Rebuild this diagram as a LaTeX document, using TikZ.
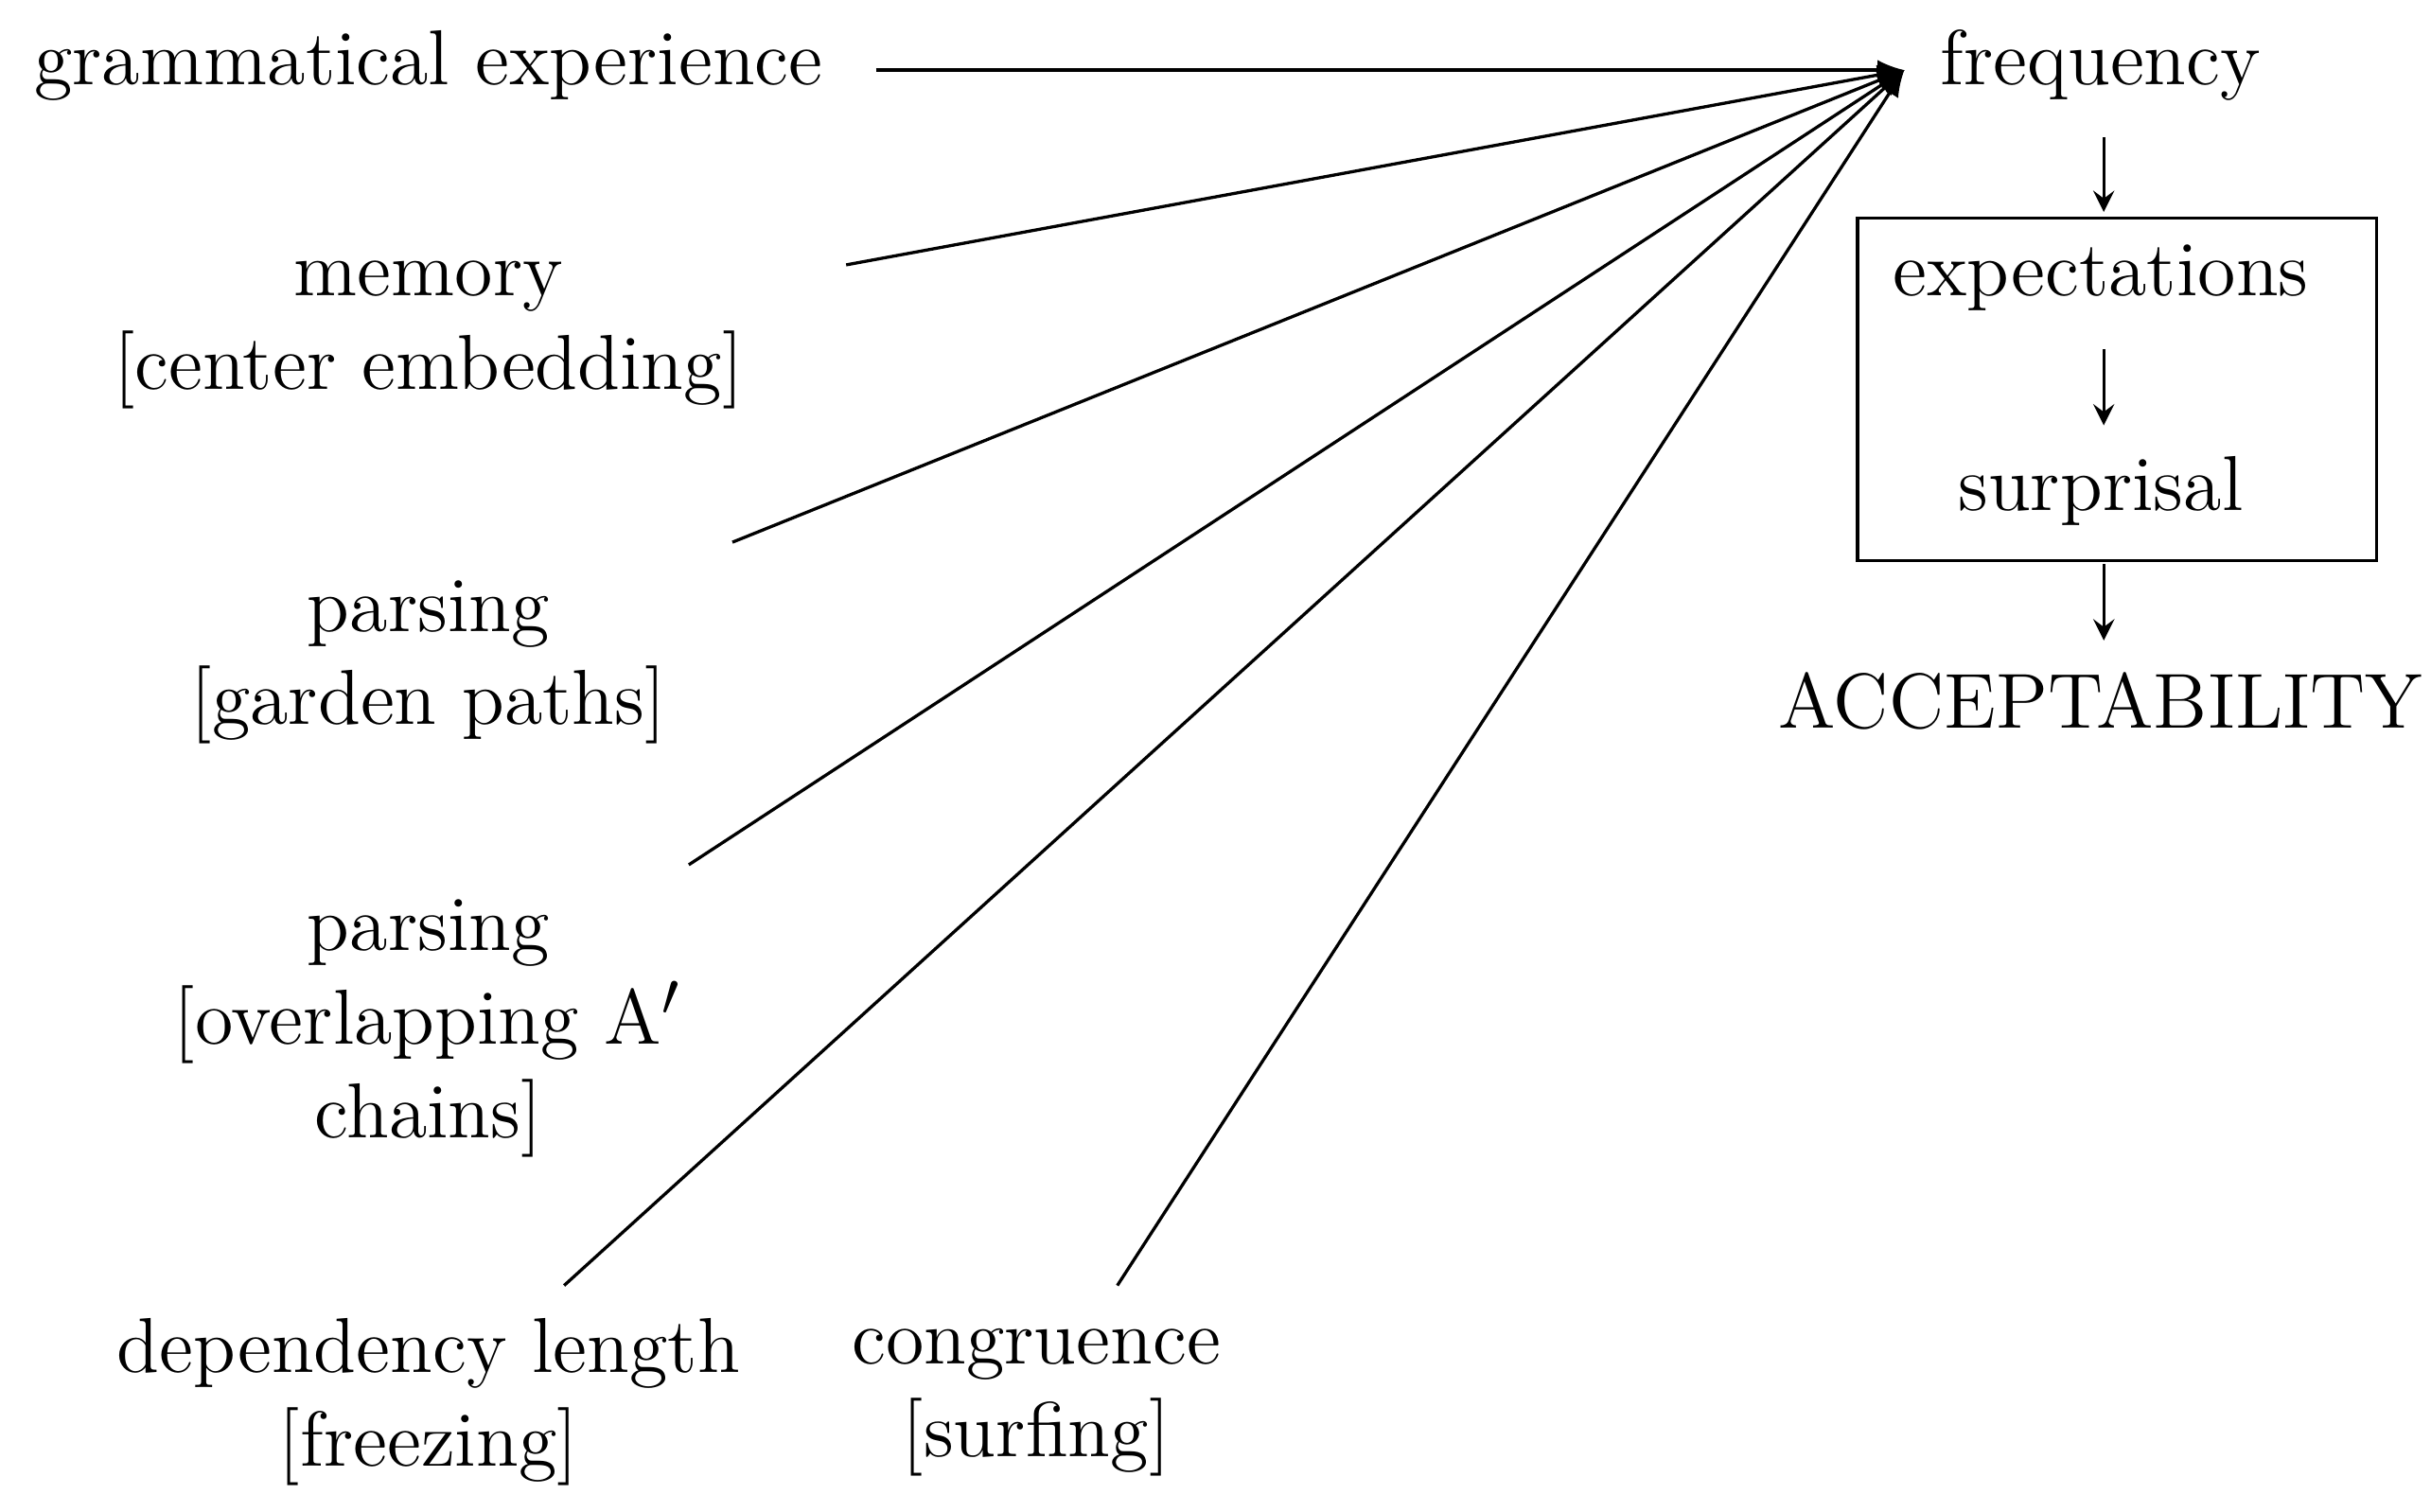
\documentclass[tikz,border=0pt]{standalone}
\usepackage{mathpazo}
\begin{document}
\begin{tikzpicture}[x=0.25pt,y=-0.25pt,
  lbl/.style={font=\fontsize{12.5}{15}\selectfont,align=center,inner sep=0pt},
  conn/.style={line width=0.5pt,-latex},
  small/.style={line width=0.5pt,-stealth}]
\useasboundingbox (0,0) rectangle (1560,970);
\node[lbl] (ge) at (275,42) {grammatical experience};
\node[lbl] (fr) at (1348,42) {frequency};
\node[lbl] (mem) at (275,215) {memory\\{[}center embedding{]}};
\node[lbl] (pg) at (275,425) {parsing\\{[}garden paths{]}};
\node[lbl] (po) at (275,660) {parsing\\{[}overlapping A$'$\\chains{]}};
\node[lbl] (dl) at (275,900) {dependency length\\{[}freezing{]}};
\node[lbl] (co) at (665,900) {congruence\\{[}surfing{]}};
\node[lbl] (ex) at (1348,178) {expectations};
\node[lbl] (su) at (1348,315) {surprisal};
\node[lbl] (ac) at (1348,450) {ACCEPTABILITY};
\node[draw,line width=0.5pt,minimum width=333*0.25pt,minimum height=220*0.25pt,inner sep=0pt] (box) at (1358.5,250) {};
\coordinate (tip) at (1222,45);
\coordinate (s1) at (562,45);
\coordinate (s2) at (543,170);
\coordinate (s3) at (470,348);
\coordinate (s4) at (442,555);
\coordinate (s5) at (362,825);
\coordinate (s6) at (717,825);
\foreach \s in {s1,s2,s3,s4,s5,s6} \draw[conn] (\s) -- (tip);
\coordinate (a1) at (1350,88); \coordinate (b1) at (1350,136);
\coordinate (a2) at (1350,224); \coordinate (b2) at (1350,273);
\coordinate (a3) at (1350,362); \coordinate (b3) at (1350,411);
\draw[small] (a1) -- (b1);
\draw[small] (a2) -- (b2);
\draw[small] (a3) -- (b3);
\end{tikzpicture}
\end{document}
